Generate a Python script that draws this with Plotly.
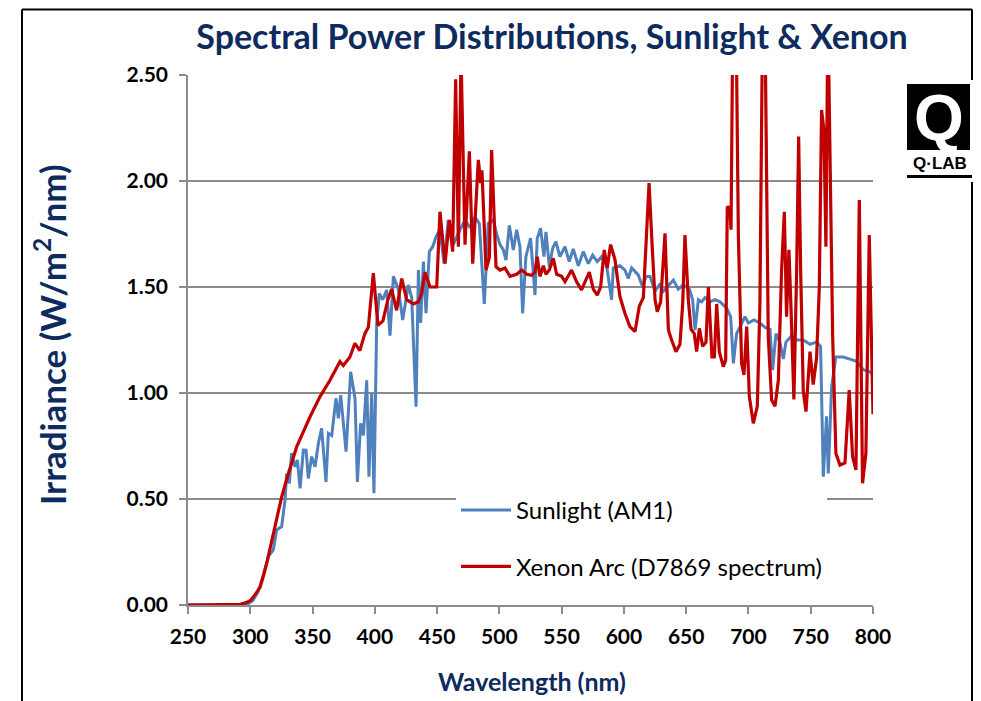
import plotly.graph_objects as go

# Sunlight (AM1) spectrum
sun_wl = [250, 290, 298, 302, 306, 310.5, 314.5, 318.5, 321.2, 325.2, 327.9, 329.2, 331.4, 333.2,
          335.9, 337.8, 340, 342.6, 344.8, 346.6, 349.3, 352, 354.7, 357.3, 360.8, 362.7, 365.4,
          368.8, 370.7, 372.6, 376.9, 380.6, 384.1, 386, 388.6, 390.8, 393.5, 395.3, 397.5, 399.3,
          401.5, 403.6, 406.3, 409.5, 412.2, 414.9, 418.9, 422.4, 426.9, 429.6, 433.1, 435, 436.8,
          439, 441.1, 443.8, 446.5, 449.1, 452.3, 455.6, 459, 463, 468.4, 472.4, 476.4, 480.4,
          483.9, 487.9, 491.1, 495.2, 497.8, 500.5, 503.2, 505.3, 508, 511.2, 513.9, 516.5, 518.7,
          521.3, 525.1, 528.6, 530.4, 533.1, 535.8, 537.4, 540.1, 542.8, 545.4, 548.6, 552.7,
          556.1, 559.3, 563.4, 567.4, 571.4, 574.9, 578.6, 582.1, 586.1, 590.1, 591.5, 596.8,
          600.8, 603.5, 606.2, 611.5, 615.1, 617.7, 621, 625, 628.4, 631.7, 636.5, 639.7, 643.7,
          647.7, 652.5, 655.2, 657.1, 659.8, 662.4, 665.1, 669.1, 673.1, 677.2, 682.5, 685.7,
          687.9, 690.5, 694.5, 697.2, 699.9, 704.4, 709.2, 713.2, 717.3, 719.4, 722.1, 725.3, 728,
          730.1, 734.6, 738.7, 744, 749.4, 754.7, 757.9, 760.1, 762.7, 764.1, 766.8, 770.2, 776.1,
          781.5, 786.8, 792.2, 797.5, 800]
sun_val = [0, 0, 0.005, 0.02, 0.06, 0.134, 0.228, 0.26, 0.354, 0.37, 0.495, 0.62, 0.574, 0.716,
           0.652, 0.684, 0.55, 0.731, 0.73, 0.597, 0.70, 0.652, 0.763, 0.833, 0.58, 0.81, 0.80,
           0.975, 0.88, 0.99, 0.723, 1.10, 0.975, 0.58, 0.857, 0.80, 1.06, 0.605, 1.0, 0.527,
           1.329, 1.47, 1.44, 1.486, 1.27, 1.55, 1.49, 1.344, 1.51, 1.45, 0.935, 1.58, 1.33,
           1.62, 1.376, 1.667, 1.69, 1.737, 1.77, 1.61, 1.816, 1.70, 1.77, 1.816, 1.78, 1.83,
           1.80, 1.42, 1.80, 1.816, 1.75, 1.70, 1.675, 1.627, 1.79, 1.675, 1.77, 1.69, 1.376,
           1.643, 1.73, 1.462, 1.73, 1.777, 1.643, 1.76, 1.596, 1.682, 1.714, 1.643, 1.69,
           1.62, 1.68, 1.60, 1.667, 1.61, 1.65, 1.62, 1.643, 1.60, 1.44, 1.59, 1.60,
           1.58, 1.54, 1.59, 1.557, 1.50, 1.55, 1.55, 1.48, 1.51, 1.48, 1.51, 1.533, 1.49,
           1.51, 1.49, 1.44, 1.297, 1.44, 1.43, 1.45, 1.43, 1.44, 1.43, 1.40, 1.36,
           1.14, 1.28, 1.33, 1.36, 1.33, 1.345, 1.33, 1.31, 1.30, 1.108, 1.28, 1.24, 1.16,
           1.24, 1.27, 1.25, 1.25, 1.23, 1.24, 1.22, 0.605, 0.89, 0.62, 1.03, 1.17, 1.17,
           1.16, 1.15, 1.11, 1.10, 1.085]

# Xenon arc (D7869) spectrum
xe_wl = [250, 288, 292, 296, 300, 304, 308, 313.2, 318.5, 325.2, 330.6, 337.3, 348, 356, 364, 372,
         374.7, 380, 384, 388, 392, 394.8, 398.8, 402.5, 406.5, 410.5, 413.5, 417.5, 421.6, 425.6,
         431, 435, 437.6, 440.3, 444.3, 449.7, 452.3, 456.4, 459.8, 462.5, 464.9, 467.1, 469.2,
         472.4, 475.9, 478.6, 483.1, 485, 486, 489.3, 492, 493.8, 497.3, 500.5, 504.5, 508.5,
         513.9, 517.9, 521.9, 525.9, 528.6, 530.4, 532.6, 535.3, 537.4, 540.1, 543.3, 546, 550,
         552.7, 558, 562, 566, 572.2, 575.4, 578.6, 581.3, 584.2, 586.6, 589.3, 592.8, 596.8,
         600.8, 604.8, 608.9, 612.4, 615.6, 617.7, 620.2, 622.3, 625, 626.8, 629.5, 633, 635.7,
         638.3, 641.8, 645, 647.2, 649, 651.7, 653.9, 656.5, 658.4, 660.6, 663.2, 665.9, 667.8,
         670.7, 672.6, 674.5, 676.6, 679.8, 681.7, 683, 685.2, 686, 687.5, 690, 691.9, 694.5,
         696.4, 698.6, 700.7, 703.9, 707.1, 709.2, 711.4, 713.2, 715.9, 718.6, 721.3, 724, 726.6,
         728.8, 730.6, 732.5, 734.4, 736.5, 738.7, 740.3, 741.9, 744, 746.2, 749.4, 752, 754.7,
         756.9, 758.7, 760.6, 762.2, 763.8, 765.4, 767.6, 770.2, 773.5, 777.5, 780.9, 783.6,
         786.3, 789, 791.6, 794.3, 797, 800]
xe_val = [0, 0, 0.003, 0.01, 0.02, 0.05, 0.086, 0.197, 0.338, 0.51, 0.62, 0.747, 0.888, 0.983, 1.06,
          1.148, 1.13, 1.17, 1.234, 1.20, 1.28, 1.31, 1.565, 1.32, 1.34, 1.44, 1.49, 1.39, 1.54,
          1.44, 1.42, 1.43, 1.47, 1.57, 1.50, 1.50, 1.855, 1.61, 1.816, 1.667, 2.48, 1.69, 2.6,
          1.70, 2.14, 1.61, 2.10, 1.99, 2.05, 1.58, 1.64, 2.146, 1.596, 1.58, 1.59, 1.55,
          1.56, 1.58, 1.56, 1.555, 1.57, 1.643, 1.55, 1.60, 1.56, 1.58, 1.635, 1.56, 1.55,
          1.525, 1.58, 1.525, 1.486, 1.57, 1.49, 1.462, 1.50, 1.675, 1.59, 1.70, 1.63, 1.455,
          1.376, 1.313, 1.29, 1.41, 1.45, 1.69, 1.99, 1.737, 1.44, 1.383, 1.43, 1.753, 1.297,
          1.25, 1.195, 1.23, 1.42, 1.745, 1.44, 1.30, 1.28, 1.195, 1.305, 1.22, 1.24, 1.50,
          1.17, 1.17, 1.42, 1.195, 1.124, 1.155, 1.88, 1.87, 1.77, 2.8, 2.8, 1.737, 1.14,
          1.085, 1.313, 0.983, 0.857, 0.937, 1.42, 2.8, 2.8, 1.266, 0.967, 0.937, 1.06, 1.58,
          1.855, 1.36, 1.675, 1.36, 0.97, 1.58, 2.21, 1.58, 1.01, 0.912, 1.195, 1.04, 1.165,
          1.50, 2.335, 2.24, 1.69, 2.8, 2.05, 1.27, 0.715, 0.66, 0.67, 1.014, 0.70,
          0.637, 1.91, 0.574, 0.715, 1.745, 0.9]

x_ticks = [250, 300, 350, 400, 450, 500, 550, 600, 650, 700, 750, 800]
y_ticks = [0, 0.5, 1.0, 1.5, 2.0, 2.5]

# page has an 8px body margin, so the figure is 8px smaller and positions are shifted
OFF = 8
W, H = 981 - OFF, 701 - OFF
L, R, T, B = 188, 873, 75, 605   # plot area in screen pixels
NAVY = "#0D2B5E"
GRID = "#8C8C8C"


def px(x):
    return (x - L) / (R - L)


def py(y):
    return (B - y) / (B - T)


fig = go.Figure()
fig.add_trace(go.Scatter(x=sun_wl, y=sun_val, name="Sunlight (AM1)", mode="lines",
                         line=dict(color="#4F81BD", width=3), legendgroup="sun"))
fig.add_trace(go.Scatter(x=xe_wl, y=xe_val, name="Xenon Arc (D7869 spectrum)", mode="lines",
                         line=dict(color="#C00000", width=3.2), legendgroup="xe"))

shapes = []
# outer frame (no bottom edge visible)
for x0, y0, x1, y1 in [(22, 9.5, 22, 710), (22, 9.5, 972, 9.5), (972, 9.5, 972, 710)]:
    shapes.append(dict(type="line", xref="paper", yref="paper", x0=px(x0), y0=py(y0),
                       x1=px(x1), y1=py(y1), line=dict(color="black", width=2)))
# Q-LAB logo
shapes.append(dict(type="rect", xref="paper", yref="paper", x0=px(903), x1=px(976),
                   y0=py(80), y1=py(182), fillcolor="white", line=dict(width=0)))
shapes.append(dict(type="rect", xref="paper", yref="paper", x0=px(907), x1=px(970),
                   y0=py(84), y1=py(150), fillcolor="black", line=dict(width=0)))
shapes.append(dict(type="rect", xref="paper", yref="paper", x0=px(907), x1=px(972),
                   y0=py(175), y1=py(178), fillcolor="black", line=dict(width=0)))

centered = dict(xref="paper", yref="paper", showarrow=False, xanchor="center", yanchor="middle")
annotations = [
    dict(text="Irradiance (W/m<sup>2</sup>/nm)", textangle=-90, x=px(50), y=py(335),
         font=dict(family="Lato", size=35, color=NAVY, weight="bold"), **centered),
    dict(text="Wavelength (nm)", x=px(532), y=py(681),
         font=dict(family="Lato", size=25, color=NAVY, weight="bold"), **centered),
    dict(text="Q", x=px(938.5), y=py(118),
         font=dict(family="Liberation Sans", size=64, color="white", weight="bold"), **centered),
    dict(text="Q·LAB", x=px(939.5), y=py(163),
         font=dict(family="Liberation Sans", size=17, color="black", weight="bold"), **centered),
]

fig.update_layout(
    width=W, height=H,
    margin=dict(l=L - OFF, r=W - (R - OFF), t=T - OFF, b=H - (B - OFF)),
    paper_bgcolor="white", plot_bgcolor="white",
    title=dict(text="Spectral Power Distributions, Sunlight & Xenon",
               x=(552 - OFF) / W, xanchor="center", y=1 - (37 - OFF) / H, yanchor="middle",
               font=dict(family="Lato", size=34, color=NAVY, weight="bold")),
    xaxis=dict(range=[250, 800], tickvals=x_ticks, ticktext=[str(v) for v in x_ticks],
               showgrid=False, zeroline=False, showline=True, linecolor=GRID, linewidth=1.5,
               ticks="outside", ticklen=7, tickcolor=GRID, tickwidth=1.5, ticklabelstandoff=5,
               tickfont=dict(family="Lato", size=21, color="black", weight="bold")),
    yaxis=dict(range=[0, 2.5], tickvals=y_ticks, ticktext=[f"{v:.2f}" for v in y_ticks],
               showgrid=True, gridcolor=GRID, gridwidth=1.5, zeroline=False,
               showline=True, linecolor=GRID, linewidth=1.5,
               ticks="outside", ticklen=7, tickcolor=GRID, tickwidth=1.5, ticklabelstandoff=7,
               tickfont=dict(family="Lato", size=21, color="black", weight="bold")),
    legend=dict(x=px(456), y=py(488), xanchor="left", yanchor="top",
                bgcolor="white", borderwidth=0, traceorder="grouped", tracegroupgap=22,
                itemwidth=50, font=dict(family="Lato", size=24, color="black")),
    shapes=shapes,
    annotations=annotations,
)

fig.write_html("out.html")
